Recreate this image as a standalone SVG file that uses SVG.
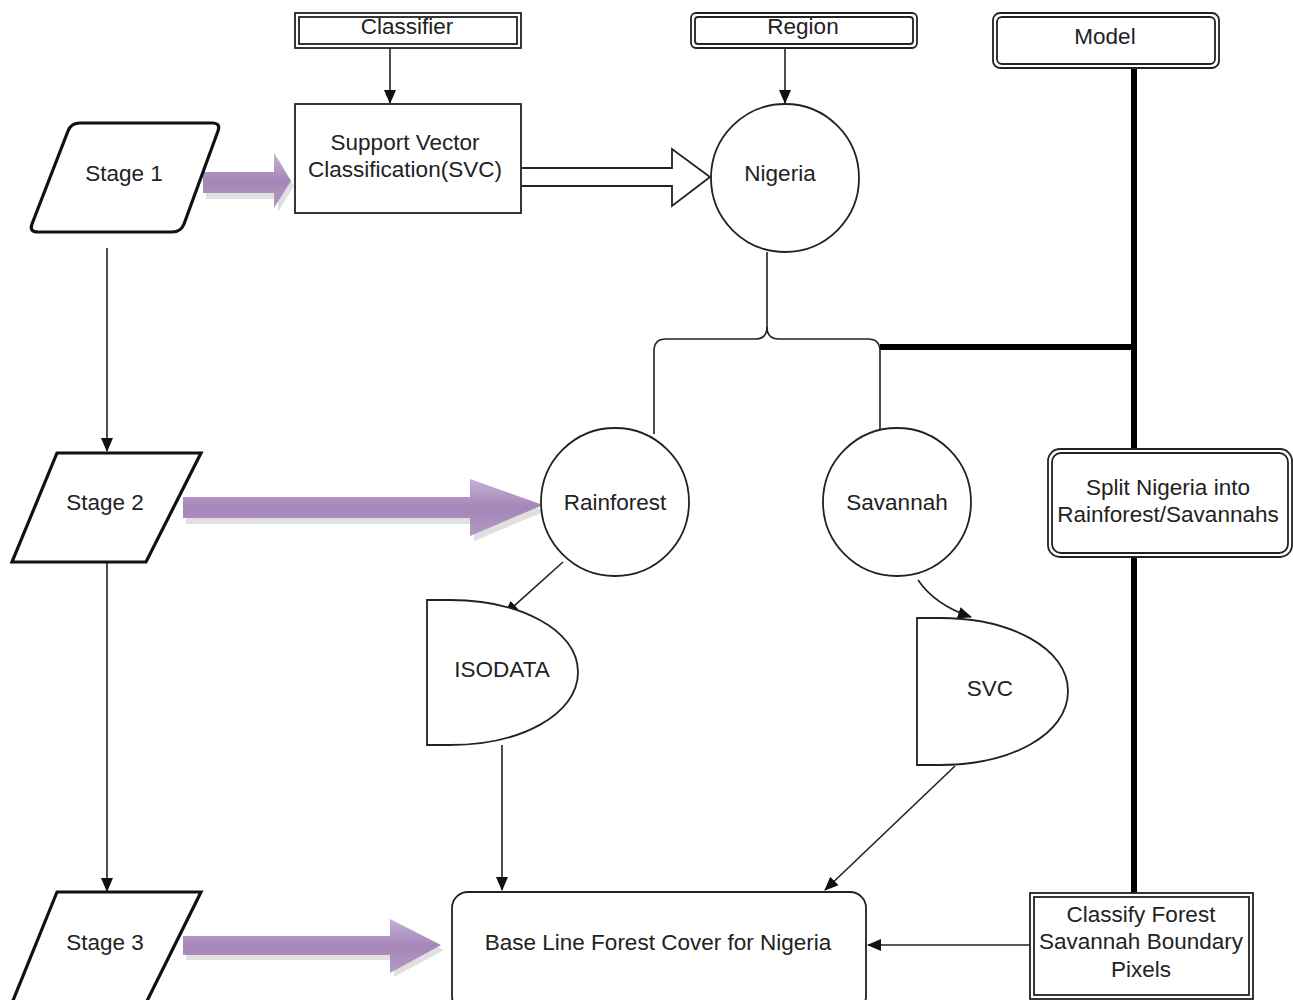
<svg xmlns="http://www.w3.org/2000/svg" width="1293" height="1000" viewBox="0 0 1293 1000">
<style>
text{font-family:"Liberation Sans",Arial,sans-serif;font-size:22.5px;fill:#222;text-anchor:middle;dominant-baseline:central}
.box{fill:#fff;stroke:#222;stroke-width:1.8}
.thin{fill:none;stroke:#222;stroke-width:1.8}
.stage{fill:#fff;stroke:#111;stroke-width:3.2}
.conn{fill:none;stroke:#222;stroke-width:1.6}
.thick{fill:none;stroke:#000;stroke-width:6}
.purple{fill:url(#pg)}
.shadow{fill:#ccc;opacity:.6}
</style>
<defs>
<linearGradient id="pg" x1="0" y1="0" x2="0" y2="1">
<stop offset="0" stop-color="#c6b0d6"/>
<stop offset="0.5" stop-color="#a486b8"/>
<stop offset="1" stop-color="#b39ac4"/>
</linearGradient>
<marker id="ah" markerWidth="14" markerHeight="14" refX="13" refY="7" orient="auto" markerUnits="userSpaceOnUse">
<path d="M0,1 L14,7 L0,13 Z" fill="#111"/>
</marker>
</defs>

<g id="connectors">
<line class="conn" x1="390" y1="48" x2="390" y2="103" marker-end="url(#ah)"/>
<line class="conn" x1="785" y1="48" x2="785" y2="103" marker-end="url(#ah)"/>
<line class="conn" x1="107" y1="248" x2="107" y2="451" marker-end="url(#ah)"/>
<line class="conn" x1="107" y1="562" x2="107" y2="891" marker-end="url(#ah)"/>
<path class="conn" d="M767,252 V327 Q767,339 755,339 H666 Q654,339 654,351 V434"/>
<path class="conn" d="M767,327 Q767,339 779,339 H868 Q880,339 880,351 V434"/>
<path class="thick" d="M880,347 H1134"/>
<path class="thick" d="M1134,68 V449"/>
<path class="thick" d="M1134,557 V893"/>
<line class="conn" x1="563" y1="562" x2="505" y2="614" marker-end="url(#ah)"/>
<path class="conn" d="M918,580 Q935,605 971,617" marker-end="url(#ah)"/>
<line class="conn" x1="502" y1="745" x2="502" y2="890" marker-end="url(#ah)"/>
<line class="conn" x1="955" y1="766" x2="825" y2="890" marker-end="url(#ah)"/>
<line class="conn" x1="1030" y1="945" x2="868" y2="945" marker-end="url(#ah)"/>
<path d="M522,168 H672 V149 L710,177 L672,206 V186 H522" fill="#fff" stroke="#222" stroke-width="1.8"/>
<path class="shadow" d="M206,178 H278 V158 L294,186 L278,212 V199 H206 Z"/>
<path class="purple" d="M203,172 H274 V153 L291,181 L274,208 V193 H203 Z"/>
<path class="shadow" d="M186,503 H474 V486 L546,511 L474,541 V524 H186 Z"/>
<path class="purple" d="M183,497 H470 V479 L543,505 L470,536 V518 H183 Z"/>
<path class="shadow" d="M186,942 H394 V926 L444,950 L394,977 V960 H186 Z"/>
<path class="purple" d="M183,936 H390 V919 L441,945 L390,973 V955 H183 Z"/>
</g>

<g id="classifier">
<rect class="box" x="295" y="13" width="226" height="35"/>
<rect class="thin" x="299" y="17" width="218" height="27"/>
<text x="407" y="26">Classifier</text>
</g>
<g id="region">
<rect class="box" x="691" y="13" width="226" height="35" rx="5"/>
<rect class="thin" x="695" y="17" width="218" height="27" rx="3"/>
<text x="803" y="26">Region</text>
</g>
<g id="model">
<rect class="box" x="993" y="13" width="226" height="55" rx="7"/>
<rect class="thin" x="997" y="17" width="218" height="47" rx="5"/>
<text x="1105" y="36">Model</text>
</g>
<g id="svc-box">
<rect class="box" x="295" y="104" width="226" height="109"/>
<text x="405" y="142">Support Vector</text>
<text x="405" y="169">Classification(SVC)</text>
</g>
<g id="nigeria">
<circle class="box" cx="785" cy="178" r="74"/>
<text x="780" y="173">Nigeria</text>
</g>
<g id="stage1">
<path class="stage" d="M80,123 H212 Q221,123 218,131 L184,224 Q181,232 172,232 H38 Q29,232 32,224 L68,131 Q71,123 80,123 Z"/>
<text x="124" y="173">Stage 1</text>
</g>
<g id="stage2">
<path class="stage" d="M57,453 H201 L146,562 H12 Z"/>
<text x="105" y="502">Stage 2</text>
</g>
<g id="stage3">
<path class="stage" d="M57,892 H201 L146,1003 H12 Z"/>
<text x="105" y="942">Stage 3</text>
</g>
<g id="rainforest">
<circle class="box" cx="615" cy="502" r="74"/>
<text x="615" y="502">Rainforest</text>
</g>
<g id="savannah">
<circle class="box" cx="897" cy="502" r="74"/>
<text x="897" y="502">Savannah</text>
</g>
<g id="split">
<rect class="box" x="1048" y="449" width="244" height="108" rx="12"/>
<rect class="thin" x="1052" y="453" width="236" height="100" rx="9"/>
<text x="1168" y="487">Split Nigeria into</text>
<text x="1168" y="514">Rainforest/Savannahs</text>
</g>
<g id="isodata">
<path class="box" d="M427,600 H450 C520,600 578,630 578,672 C578,715 520,745 450,745 H427 Z"/>
<text x="502" y="669">ISODATA</text>
</g>
<g id="svc">
<path class="box" d="M917,618 H940 C1010,618 1068,648 1068,691 C1068,735 1010,765 940,765 H917 Z"/>
<text x="990" y="688">SVC</text>
</g>
<g id="baseline">
<rect class="box" x="452" y="892" width="414" height="120" rx="16"/>
<text x="658" y="942">Base Line Forest Cover for Nigeria</text>
</g>
<g id="classify">
<rect class="box" x="1030" y="893" width="223" height="106"/>
<rect class="thin" x="1034" y="897" width="215" height="98"/>
<text x="1141" y="914">Classify Forest</text>
<text x="1141" y="941">Savannah Boundary</text>
<text x="1141" y="969">Pixels</text>
</g>
</svg>
